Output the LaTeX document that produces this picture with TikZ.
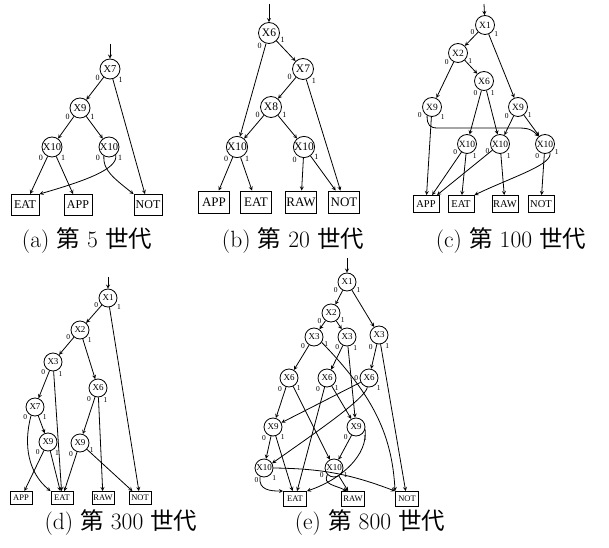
\documentclass[tikz,border=0pt]{standalone}
\usepackage{fontspec}
\newfontfamily\tms{Liberation Serif}
\newfontfamily\cjk{Noto Sans CJK JP}
\usetikzlibrary{calc}

\tikzset{
  var/.style={circle, draw, line width=0.8pt, inner sep=0pt},
  term/.style={rectangle, draw, line width=0.9pt, inner sep=1.2pt},
  lbl/.style={inner sep=0.3pt},
  bit0/.style={label={[lbl]#1:0}},
  bit1/.style={label={[lbl]#1:1}},
  edg/.style={->, line width=0.8pt},
  capt/.style={font=\fontsize{23.5}{27}\selectfont},
}

\begin{document}
\begin{tikzpicture}[x=1pt, y=1pt, >=stealth, label distance=1pt]
  \useasboundingbox (0,0) rectangle (609,547);

  % (a) generation 5
  \begin{scope}[var/.append style={minimum size=20pt, font=\tms\fontsize{10.5}{12}\selectfont},
                term/.append style={minimum width=28pt, minimum height=21pt, font=\tms\fontsize{12}{14}\selectfont},
                lbl/.append style={font=\tms\fontsize{8}{9}\selectfont}]
    \coordinate (a0) at (110,503);
    \node[var, bit0=-150, bit1=-45] (a7) at (110,478) {X7};
    \node[var, bit0=-150, bit1=-30] (a9) at (80,439) {X9};
    \node[var, bit0=-140, bit1=-40] (a10a) at (52,400) {X10};
    \node[var, bit0=-140, bit1=-40] (a10b) at (109,400) {X10};
    \node[term] (aEAT) at (25,342) {EAT};
    \node[term] (aAPP) at (78,342) {APP};
    \node[term] (aNOT) at (148,342) {NOT};
    \draw[edg] (a0) -- (a7);
    \draw[edg] (a7) -- (a9);
    \draw[edg] (a7) -- (aNOT);
    \draw[edg] (a9) -- (a10a);
    \draw[edg] (a9) -- (a10b);
    \draw[edg] (a10a) -- (aEAT);
    \draw[edg] (a10a) -- (aAPP);
    \draw[edg] (a10b.-120) .. controls +(-1,-14) and +(-20,16) .. (aNOT.north west);
    \draw[edg] (a10b.-50) .. controls +(3,-14) and +(45,13) .. (aEAT.north east);
  \end{scope}

  % (b) generation 20
  \begin{scope}[var/.append style={minimum size=21pt, font=\tms\fontsize{11.5}{13}\selectfont},
                term/.append style={minimum width=31pt, minimum height=22pt, font=\tms\fontsize{13}{15}\selectfont},
                lbl/.append style={font=\tms\fontsize{8}{9}\selectfont}]
    \coordinate (b0) at (269,543);
    \node[var, bit0=-125, bit1=-20] (b6) at (269,514) {X6};
    \node[var, bit0=-155, bit1=-45] (b7) at (303,478) {X7};
    \node[var, bit0=-155, bit1=-25] (b8) at (271,440) {X8};
    \node[var, bit0=-135, bit1=-50] (b10a) at (237,400) {X10};
    \node[var, bit0=-125, bit1=-35] (b10b) at (304,400) {X10};
    \node[term] (bAPP) at (214,345) {APP};
    \node[term] (bEAT) at (256,345) {EAT};
    \node[term] (bRAW) at (301,345) {RAW};
    \node[term] (bNOT) at (344,345) {NOT};
    \draw[edg] (b0) -- (b6);
    \draw[edg] (b6) -- (b10a);
    \draw[edg] (b6) -- (b7);
    \draw[edg] (b7) -- (b8);
    \draw[edg] (b7) -- (bNOT);
    \draw[edg] (b8) -- (b10a);
    \draw[edg] (b8) -- (b10b);
    \draw[edg] (b10a) -- (bAPP);
    \draw[edg] (b10a) -- (bEAT);
    \draw[edg] (b10b) -- (bRAW);
    \draw[edg] (b10b) -- (bNOT);
  \end{scope}

  % (c) generation 100
  \begin{scope}[var/.append style={minimum size=19pt, font=\tms\fontsize{9.5}{11}\selectfont},
                term/.append style={minimum width=26pt, minimum height=17pt, font=\tms\fontsize{10.5}{12}\selectfont},
                lbl/.append style={font=\tms\fontsize{7.5}{8}\selectfont}]
    \coordinate (c0) at (484,543);
    \node[var, bit0=-160, bit1=-35] (c1) at (485,522) {X1};
    \node[var, bit0=-145, bit1=-25] (c2) at (458,494) {X2};
    \node[var, bit0=-125, bit1=-55] (c6) at (484,466) {X6};
    \node[var, bit0=-155, bit1=-40] (c9a) at (432,440) {X9};
    \node[var, bit0=-145, bit1=-30] (c9b) at (518,440) {X9};
    \node[var, bit0=-150, bit1=-60] (c10a) at (467,403) {X10};
    \node[var, bit0=-160, bit1=-55] (c10b) at (500,403) {X10};
    \node[var, bit0=-120, bit1=-30] (c10c) at (545,403) {X10};
    \node[term] (cAPP) at (426,343) {APP};
    \node[term] (cEAT) at (461,343) {EAT};
    \node[term] (cRAW) at (505,343) {RAW};
    \node[term] (cNOT) at (541,343) {NOT};
    \draw[edg] (c0) -- (c1);
    \draw[edg] (c1) -- (c2);
    \draw[edg] (c1) -- (c9b);
    \draw[edg] (c2) -- (c9a);
    \draw[edg] (c2) -- (c6);
    \draw[edg] (c6) -- (c10a);
    \draw[edg] (c6) -- (c10b);
    \draw[edg] (c9a.-120) .. controls +(0,-10) and +(-8,0) .. (438,419)
      -- (518,419) .. controls +(12,0) and +(-6,6) .. (c10c.130);
    \draw[edg] (c9a) -- (cAPP);
    \draw[edg] (c9b) -- (c10b);
    \draw[edg] (c9b) -- (c10c);
    \draw[edg] (c10a) -- (cAPP);
    \draw[edg] (c10a) -- (cEAT);
    \draw[edg] (c10b) -- (cAPP);
    \draw[edg] (c10b) -- (cRAW);
    \draw[edg] (c10c) -- (cNOT);
    \draw[edg] (c10c.-60) .. controls +(3,-12) and +(40,19) .. (cEAT.north east);
  \end{scope}

  % (d) generation 300
  \begin{scope}[var/.append style={minimum size=18pt, font=\tms\fontsize{9}{10}\selectfont},
                term/.append style={minimum width=22pt, minimum height=13pt, font=\tms\fontsize{8.5}{10}\selectfont},
                lbl/.append style={font=\tms\fontsize{7.5}{8}\selectfont}]
    \coordinate (d0) at (108,270);
    \node[var, bit0=-155, bit1=-35] (d1) at (108,249) {X1};
    \node[var, bit0=-155, bit1=-45] (d2) at (80,217) {X2};
    \node[var, bit0=-135, bit1=-60] (d3) at (53,185) {X3};
    \node[var, bit0=-130, bit1=-60] (d6) at (98,159) {X6};
    \node[var, bit0=-135, bit1=-45] (d7) at (35,140) {X7};
    \node[var, bit0=-140, bit1=-50] (d9a) at (48,105) {X9};
    \node[var, bit0=-130, bit1=-25] (d9b) at (80,104) {X9};
    \node[term] (dAPP) at (21,49) {APP};
    \node[term] (dEAT) at (62,49) {EAT};
    \node[term] (dRAW) at (103,49) {RAW};
    \node[term] (dNOT) at (140,49) {NOT};
    \draw[edg] (d0) -- (d1);
    \draw[edg] (d1) -- (d2);
    \draw[edg] (d1) -- (dNOT);
    \draw[edg] (d2) -- (d3);
    \draw[edg] (d2) -- (d6);
    \draw[edg] (d3) -- (d7);
    \draw[edg] (d3) -- (dEAT);
    \draw[edg] (d6) -- (d9b);
    \draw[edg] (d6) -- (dRAW);
    \draw[edg] (d7.-115) .. controls +(-8,-30) and +(-22,18) .. (dEAT.north west);
    \draw[edg] (d7) -- (d9a);
    \draw[edg] (d9a) -- (dAPP);
    \draw[edg] (d9a) -- (dEAT);
    \draw[edg] (d9b) -- (dEAT);
    \draw[edg] (d9b) -- (dNOT);
  \end{scope}

  % (e) generation 800
  \begin{scope}[var/.append style={minimum size=18pt, font=\tms\fontsize{9}{10}\selectfont},
                term/.append style={minimum width=23pt, minimum height=15pt, font=\tms\fontsize{8.5}{10}\selectfont},
                lbl/.append style={font=\tms\fontsize{7.5}{8}\selectfont}]
    \coordinate (e0) at (347,289);
    \node[var, bit0=-150, bit1=-30] (e1) at (347,265) {X1};
    \node[var, bit0=-150, bit1=-25] (e2) at (331,234) {X2};
    \node[var, bit0=-145, bit1=-20] (e3a) at (314,210) {X3};
    \node[var, bit0=-135, bit1=-55] (e3b) at (347,210) {X3};
    \node[var, bit0=-125, bit1=-55] (e3c) at (379,212) {X3};
    \node[var, bit0=-130, bit1=-45] (e6a) at (289,169) {X6};
    \node[var, bit0=-130, bit1=-45] (e6b) at (327,169) {X6};
    \node[var, bit0=180, bit1=-45] (e6c) at (369,169) {X6};
    \node[var, bit0=-130, bit1=-45] (e9a) at (273,120) {X9};
    \node[var, bit0=-140, bit1=-50] (e9b) at (356,120) {X9};
    \node[var, bit0=-120, bit1=-40] (e10a) at (264,79) {X10};
    \node[var, bit0=-160, bit1=-25] (e10b) at (334,79) {X10};
    \node[term] (eEAT) at (295,48) {EAT};
    \node[term] (eRAW) at (353,48) {RAW};
    \node[term] (eNOT) at (407,48) {NOT};
    \draw[edg] (e0) -- (e1);
    \draw[edg] (e1) -- (e2);
    \draw[edg] (e1) -- (e3c);
    \draw[edg] (e2) -- (e3a);
    \draw[edg] (e2) -- (e3b);
    \draw[edg] (e3a) -- (e6a);
    \draw[edg] (e3a.-35) .. controls (375,150) and (392,110) .. (eNOT.north west);
    \draw[edg] (e3b) -- (e6b);
    \draw[edg] (e3b) -- (e9b);
    \draw[edg] (e3c) -- (e6c);
    \draw[edg] (e3c) -- (eNOT);
    \draw[edg] (e6a) -- (e9a);
    \draw[edg] (e6a) -- (e10b);
    \draw[edg] (e6b) -- (eEAT);
    \draw[edg] (e6b) -- (e9b);
    \draw[edg] (e6c) -- (e9a);
    \draw[edg] (e6c.-100) .. controls +(-2,-12) and +(35,25) .. (e10a.30);
    \draw[edg] (e9a) -- (e10a);
    \draw[edg] (e9a) -- (eEAT);
    \draw[edg] (e9b) -- (e10b);
    \draw[edg] (e9b.-15) .. controls (368,92) and +(35,12) .. (eEAT.north east);
    \draw[edg] (e10a.-115) .. controls +(-2,-14) and +(-12,0) .. (eEAT.north west);
    \draw[edg] (e10a) to[bend left=10] (eNOT.north west);
    \draw[edg] (e10b.-135) .. controls +(-5,-10) and +(-12,6) .. ($(eRAW.north)+(-6,0)$);
    \draw[edg] (e10b) -- (eRAW);
  \end{scope}

  % captions
  \node[capt] (capa) at (87,306) {(a) {\cjk 第} 5 {\cjk 世代}};
  \node[capt] (capb) at (293,306) {(b) {\cjk 第} 20 {\cjk 世代}};
  \node[capt] (capc) at (511,306) {(c) {\cjk 第} 100 {\cjk 世代}};
  \node[capt] (capd) at (121,24) {(d) {\cjk 第} 300 {\cjk 世代}};
  \node[capt] (cape) at (370,24) {(e) {\cjk 第} 800 {\cjk 世代}};
\end{tikzpicture}
\end{document}
